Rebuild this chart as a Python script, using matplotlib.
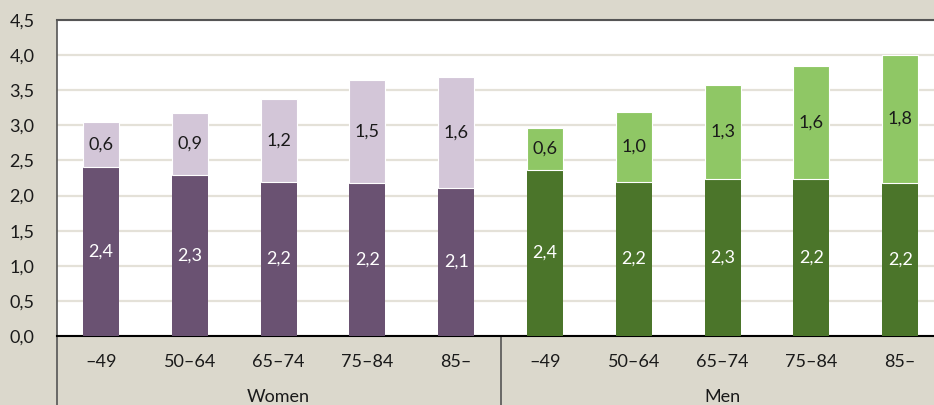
import matplotlib
matplotlib.use('Agg')
import matplotlib.pyplot as plt
import matplotlib.transforms as mtransforms
import numpy as np

# data
groups = ['Women', 'Men']
ages = ['\u201349', '50\u201364', '65\u201374', '75\u201384', '85\u2013']

women_base = [2.40, 2.29, 2.20, 2.18, 2.11]
women_extra = [0.65, 0.89, 1.17, 1.47, 1.58]
men_base = [2.37, 2.20, 2.24, 2.23, 2.18]
men_extra = [0.59, 0.99, 1.33, 1.61, 1.82]

# labels as printed in the chart
women_base_lbl = [2.4, 2.3, 2.2, 2.2, 2.1]
women_extra_lbl = [0.6, 0.9, 1.2, 1.5, 1.6]
men_base_lbl = [2.4, 2.2, 2.3, 2.2, 2.2]
men_extra_lbl = [0.6, 1.0, 1.3, 1.6, 1.8]

bg = '#dbd8cc'
plt.rcParams['font.family'] = ['Lato', 'DejaVu Sans']
plt.rcParams['font.size'] = 13

fig = plt.figure(figsize=(9.34, 4.05), dpi=100, facecolor=bg)
W, H = 934, 405
ax = fig.add_axes([56.6 / W, 69 / H, 888 / W, 316 / H])
ax.set_facecolor('white')

x = np.arange(10)
width = 0.405
base = women_base + men_base
extra = women_extra + men_extra
base_lbl = women_base_lbl + men_base_lbl
extra_lbl = women_extra_lbl + men_extra_lbl
dark = ['#6a5272'] * 5 + ['#4b752a'] * 5
light = ['#d3c6d8'] * 5 + ['#8fc765'] * 5

ax.bar(x, base, width, color=dark, zorder=3)
ax.bar(x, extra, width, bottom=base, color=light, edgecolor='white',
       linewidth=0.8, zorder=3)

for i in range(10):
    ax.text(x[i], base[i] / 2, f'{base_lbl[i]:.1f}'.replace('.', ','),
            ha='center', va='center', color='white', zorder=4)
    ax.text(x[i], base[i] + extra[i] / 2, f'{extra_lbl[i]:.1f}'.replace('.', ','),
            ha='center', va='center', color='#1a1a1a', zorder=4)

ax.set_xlim(-0.5, 9.5)
ax.set_ylim(0, 4.5)
ax.set_yticks(np.arange(0, 4.51, 0.5))
ax.set_yticklabels([f'{v:.1f}'.replace('.', ',') for v in np.arange(0, 4.51, 0.5)],
                   color='#1a1a1a')
ax.tick_params(axis='y', length=0, pad=16)
ax.set_xticks([])
ax.grid(axis='y', color='#e4e1d8', linewidth=1.6, zorder=0)

ax.spines['right'].set_visible(False)
ax.spines['top'].set_color('#555555')
ax.spines['top'].set_linewidth(1.5)
ax.spines['left'].set_color('#555555')
ax.spines['left'].set_linewidth(1.2)
ax.spines['bottom'].set_color('#000000')
ax.spines['bottom'].set_linewidth(1.5)

# category axis below the plot
trans = mtransforms.blended_transform_factory(ax.transData, ax.transAxes)
for i, a in enumerate(ages * 2):
    ax.text(x[i], -26 / 316, a, transform=trans, ha='center', va='center',
            color='#1a1a1a')
for g, cx in zip(groups, [2, 7]):
    ax.text(cx, -61 / 316, g, transform=trans, ha='center', va='center',
            color='#1a1a1a')
for xv in [-0.5, 4.5]:
    ax.plot([xv, xv], [0, -0.25], transform=trans, color='#555555',
            linewidth=1.2, clip_on=False)

fig.savefig('out.png', dpi=100, facecolor=bg)
